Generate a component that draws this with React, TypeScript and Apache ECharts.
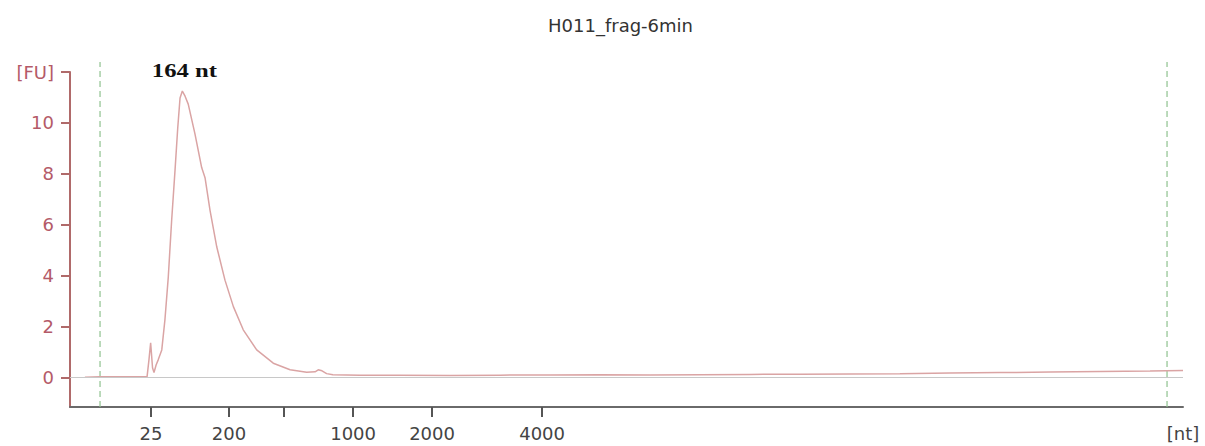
import React, { useEffect, useRef } from "react";
import * as echarts from "echarts";

// Ladder (migration time in s -> fragment size in nt)
const ladderSizes = [25, 200, 500, 1000, 2000, 4000];
const ladderTimes = [20.86, 24.57, 27.19, 30.48, 34.24, 39.48];
const labeledSizes = [25, 200, 1000, 2000, 4000];

// Marker (lower / upper) positions
const markerTimes = [18.43, 69.24];

// Electropherogram trace
const traceTime = [
  17.71, 18.43, 19.38, 20.33, 20.67, 20.76, 20.84, 20.93, 21.0, 21.1, 21.2, 21.37,
  21.52, 21.68, 21.84, 22.0, 22.13, 22.24, 22.35, 22.48, 22.63, 22.95, 23.27, 23.43,
  23.67, 23.99, 24.38, 24.78, 25.25, 25.89, 26.68, 27.48, 28.27, 28.67, 28.82, 29.0,
  29.22, 29.52, 30.81, 32.71, 35.1, 37.48, 39.86, 42.24, 44.62, 47.0, 49.38, 51.76,
  54.14, 56.52, 58.9, 61.29, 63.67, 66.05, 68.43, 70.0,
];
const traceFU = [
  0.02, 0.04, 0.04, 0.04, 0.04, 0.7, 1.37, 0.39, 0.2, 0.5, 0.7, 1.09,
  2.27, 3.95, 6.17, 8.13, 9.8, 10.98, 11.25, 11.05, 10.74, 9.57, 8.25, 7.85,
  6.56, 5.13, 3.83, 2.79, 1.88, 1.09, 0.57, 0.31, 0.21, 0.23, 0.31, 0.27,
  0.16, 0.12, 0.1, 0.1, 0.09, 0.1, 0.11, 0.12, 0.11, 0.12, 0.13, 0.14,
  0.15, 0.16, 0.18, 0.2, 0.22, 0.24, 0.26, 0.28,
];

const yTicks = [0, 2, 4, 6, 8, 10, 12];
const peakLabel = "164 nt";
const chartTitle = "H011_frag-6min";

const X_MIN = 17;
const X_MAX = 70;
const Y_MIN = -1.15;
const Y_MAX = 12;

export default function App() {
  const ref = useRef<HTMLDivElement>(null);

  useEffect(() => {
    if (!ref.current) return;
    const chart = echarts.init(ref.current, undefined, { renderer: "svg" });

    const labelTimes = labeledSizes.map((s) => ladderTimes[ladderSizes.indexOf(s)]);
    const peakIdx = traceFU.indexOf(Math.max(...traceFU));

    const option: any = {
      animation: false,
      backgroundColor: "#ffffff",
      title: {
        text: chartTitle,
        left: 543,
        top: 11,
        textStyle: { fontSize: 18, fontWeight: "normal", color: "#333", fontFamily: "DejaVu Sans" },
      },
      grid: { left: 70, right: 22, top: 72, bottom: 39, containLabel: false },
      xAxis: {
        type: "value",
        min: X_MIN,
        max: X_MAX,
        axisLine: { show: true, onZero: false, lineStyle: { color: "#6a6a6a", width: 2 } },
        axisTick: { show: true, customValues: ladderTimes, length: 10, lineStyle: { color: "#555", width: 2 } },
        axisLabel: {
          customValues: [...labelTimes, X_MAX],
          formatter: (v: number) => {
            if (Math.abs(v - X_MAX) < 1e-6) return "[nt]";
            let best = 0;
            for (let i = 1; i < ladderTimes.length; i++) {
              if (Math.abs(ladderTimes[i] - v) < Math.abs(ladderTimes[best] - v)) best = i;
            }
            return String(ladderSizes[best]);
          },
          fontSize: 18,
          color: "#444",
          margin: 17,
          fontFamily: "DejaVu Sans",
        },
        splitLine: { show: false },
      },
      yAxis: {
        type: "value",
        min: Y_MIN,
        max: Y_MAX,
        axisLine: { show: true, lineStyle: { color: "#b06a6a", width: 2 } },
        axisTick: { show: true, customValues: yTicks, length: 9, lineStyle: { color: "#b06a6a", width: 2 } },
        axisLabel: {
          customValues: yTicks,
          formatter: (v: number) => (v === 12 ? "[FU]" : String(v)),
          fontSize: 18,
          color: "#b45a68",
          margin: 16,
          fontFamily: "DejaVu Sans",
        },
        splitLine: { show: false },
      },
      series: [
        {
          type: "custom",
          data: markerTimes.map((t) => [t]),
          encode: { x: 0 },
          clip: false,
          silent: true,
          z: 1,
          renderItem: (params: any, api: any) => {
            const x = api.value(0);
            const p0 = api.coord([x, Y_MIN]);
            const p1 = api.coord([x, Y_MAX]);
            return {
              type: "line",
              shape: { x1: p0[0], y1: p0[1], x2: p0[0], y2: p1[1] - 10 },
              style: { stroke: "#8fc28f", lineWidth: 1.2, lineDash: [6, 4] },
            };
          },
        },
        {
          type: "line",
          data: traceTime.map((t, i) => [t, traceFU[i]]),
          showSymbol: false,
          symbol: "none",
          z: 3,
          lineStyle: { color: "#daa4a4", width: 1.5 },
          markLine: {
            silent: true,
            symbol: "none",
            label: { show: false },
            lineStyle: { color: "#c8c8c8", type: "solid", width: 1.2 },
            data: [{ yAxis: 0 }],
          },
        },
      ],
    };

    chart.setOption(option);

    const peakPx = chart.convertToPixel({ gridIndex: 0 }, [traceTime[peakIdx], traceFU[peakIdx]]) as number[];
    chart.setOption({
      graphic: [
        {
          type: "text",
          x: peakPx[0] + 2,
          y: 71,
          scaleX: 1.3,
          style: {
            text: peakLabel,
            fontFamily: "Liberation Serif",
            fontWeight: "bold",
            fontSize: 19,
            fill: "#111",
            textAlign: "center",
            textVerticalAlign: "middle",
          },
        },
      ],
    });

    return () => chart.dispose();
  }, []);

  return (
    <div
      ref={ref}
      style={{ position: "fixed", left: 0, top: 0, width: 1205, height: 446, background: "#fff" }}
    />
  );
}
